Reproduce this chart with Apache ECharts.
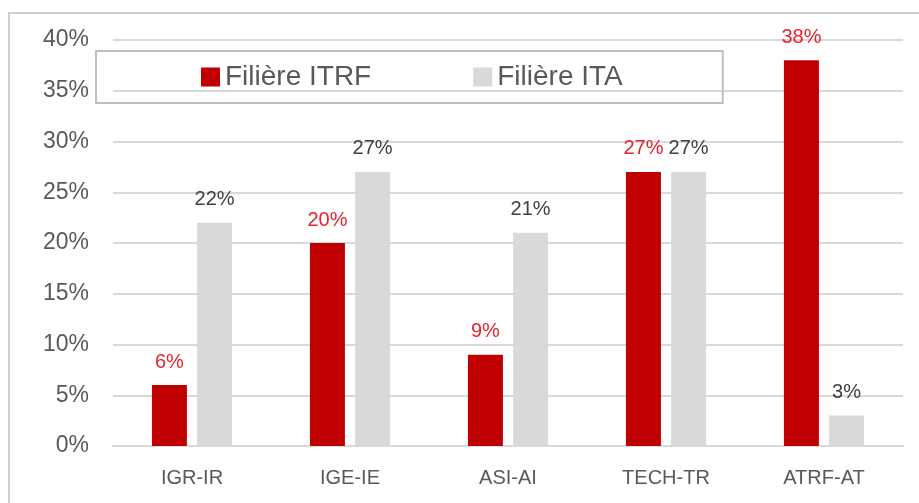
<!DOCTYPE html>
<html><head><meta charset="utf-8">
<script src="https://cdn.jsdelivr.net/npm/echarts@6/dist/echarts.min.js"></script>
<style>html,body{margin:0;padding:0;background:#fff}#c{width:919px;height:503px}</style>
</head><body><div id="c"></div>
<script>
const categories = ['IGR-IR', 'IGE-IE', 'ASI-AI', 'TECH-TR', 'ATRF-AT'];
const itrf = [6, 20, 9, 27, 38];
const ita = [22, 27, 21, 27, 3];
const yTicks = [0, 5, 10, 15, 20, 25, 30, 35, 40];
const FONT = 'Liberation Sans';
const chart = echarts.init(document.getElementById('c'));
chart.setOption({
  animation: false,
  backgroundColor: '#fff',
  textStyle: { fontFamily: FONT },
  graphic: [{ type: 'rect', shape: { x: 9, y: 13, width: 930, height: 520 }, style: { fill: 'none', stroke: '#cfcfcf', lineWidth: 2 }, z: 100 }],
  grid: { left: 113, right: 16, top: 40, bottom: 57 },
  legend: {
    left: 96, top: 51,
    padding: [12, 100, 12, 105],
    itemGap: 102,
    itemWidth: 19, itemHeight: 19,
    borderColor: '#bfbfbf', borderWidth: 2,
    textStyle: { fontSize: 28, color: '#595959', fontFamily: FONT },
    icon: 'rect',
    data: ['Filière ITRF', 'Filière ITA']
  },
  xAxis: {
    type: 'category', data: categories,
    axisLine: { lineStyle: { color: '#d9d9d9', width: 2 } },
    axisTick: { show: false },
    axisLabel: { fontSize: 20, color: '#595959', margin: 22, fontFamily: FONT }
  },
  yAxis: {
    type: 'value', min: yTicks[0], max: yTicks[yTicks.length - 1], interval: 5,
    axisLine: { show: false }, axisTick: { show: false },
    splitLine: { lineStyle: { color: '#d9d9d9', width: 2 } },
    axisLabel: { fontSize: 23, color: '#595959', margin: 24, formatter: '{value}%', fontFamily: FONT }
  },
  series: [
    { name: 'Filière ITRF', type: 'bar', data: itrf, barWidth: 35, barGap: '29%',
      itemStyle: { color: '#c00000' },
      label: { show: true, position: 'top', distance: 13, formatter: '{c}%', fontSize: 20, color: '#e3242b', fontFamily: FONT } },
    { name: 'Filière ITA', type: 'bar', data: ita, barWidth: 35,
      itemStyle: { color: '#d9d9d9' },
      label: { show: true, position: 'top', distance: 13, formatter: '{c}%', fontSize: 20, color: '#404040', fontFamily: FONT } }
  ]
});
</script></body></html>
